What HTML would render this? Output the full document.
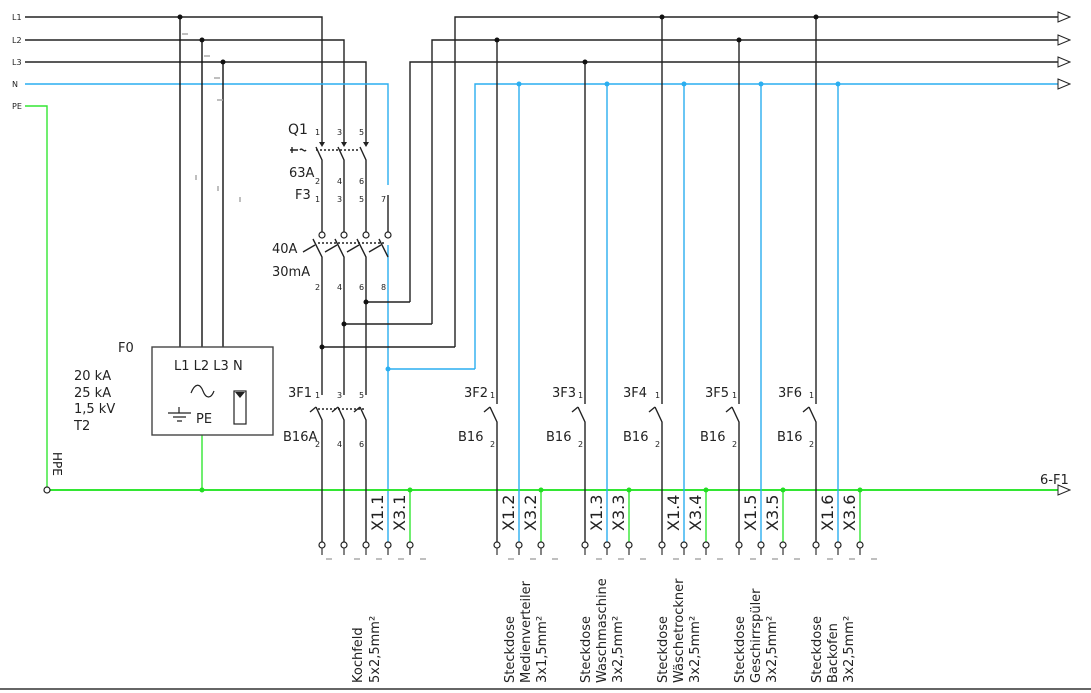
<!DOCTYPE html>
<html><head><meta charset="utf-8"><style>
html,body{margin:0;padding:0;background:#fff;width:1091px;height:693px;overflow:hidden}
svg{display:block}
text{font-family:"DejaVu Sans","Liberation Sans",sans-serif;fill:#222}
</style></head><body>
<svg width="1091" height="693" viewBox="0 0 1091 693" xmlns="http://www.w3.org/2000/svg">
<defs>
<marker id="ar" markerWidth="14" markerHeight="12" refX="1" refY="6" orient="auto" markerUnits="userSpaceOnUse">
<path d="M1,1 L13,6 L1,11 Z" fill="#fff" stroke="#222" stroke-width="1"/></marker>
</defs>
<g font-size="8">
<text x="12" y="20">L1</text><text x="12" y="43">L2</text><text x="12" y="65">L3</text><text x="12" y="87">N</text><text x="12" y="109">PE</text>
</g>
<g stroke-width="1.4" fill="none">
<path d="M25,17H322V143" stroke="#222"/>
<path d="M25,40H344V143" stroke="#222"/>
<path d="M25,62H366V143" stroke="#222"/>
<path d="M25,84H388V185" stroke="#2aaef0"/>
<path d="M388,245V545" stroke="#2aaef0"/>
<path d="M388,195V232" stroke="#222"/>
<path d="M25,106H47V487" stroke="#33e633"/>
<path d="M455,347V17H1058" stroke="#222" marker-end="url(#ar)"/>
<path d="M432,324V40H1058" stroke="#222" marker-end="url(#ar)"/>
<path d="M410,302V62H1058" stroke="#222" marker-end="url(#ar)"/>
<path d="M475,369V84H1058" stroke="#2aaef0" marker-end="url(#ar)"/>
<path d="M322,347H455M344,324H432M366,302H410" stroke="#222"/>
<path d="M388,369H475" stroke="#2aaef0"/>
<path d="M50,490H1058" stroke="#33e633" stroke-width="2" marker-end="url(#ar)"/>
<path d="M180,17V347M202,40V347M223,62V347" stroke="#111"/>
<path d="M202,435V490" stroke="#33e633"/>
<rect x="152" y="347" width="121" height="88" stroke="#444"/>
<g stroke="#222">
<!-- Q1 -->
<path d="M316,147L322,160V232M338,147L344,160V232M360,147L366,160V232"/>
<path d="M290,150H298M292,147V153" />
<path d="M300,150C302,147 304,153 306,150"/>
<path d="M316,150H360" stroke-dasharray="2,2"/>
<!-- RCD -->
<path d="M313,239L322,257V395M335,239L344,257V395M357,239L366,257V395M379,239L388,257"/>
<path d="M318,243H384" stroke-dasharray="2,2"/>
<path d="M303,252L315,245M325,252L337,245M347,252L359,245M369,252L381,245"/>
<!-- 3F1 -->
<path d="M316,407L322,420V545M338,407L344,420V545M360,407L366,420V545"/>
<path d="M316,407L310,412M338,407L332,412M360,407L354,412"/>
<path d="M318,409H364" stroke-dasharray="2,2"/>
<!-- branches -->
<path d="M497,40V404M585,62V404M662,17V404M739,40V404M816,17V404"/>
<path d="M490,407L497,422V545M578,407L585,422V545M655,407L662,422V545M732,407L739,422V545M809,407L816,422V545"/>
<path d="M490,407L484,412M578,407L572,412M655,407L649,412M732,407L726,412M809,407L803,412"/>
</g>
<g stroke="#2aaef0">
<path d="M519,84V545M607,84V545M684,84V545M761,84V545M838,84V545"/>
</g>
<g stroke="#33e633">
<path d="M410,490V545M541,490V545M629,490V545M706,490V545M783,490V545M860,490V545"/>
</g>
<path d="M0,689H1091" stroke="#333" stroke-width="1.5"/>
</g>
<g fill="#222">
<path d="M319,142H325L322,147ZM341,142H347L344,147ZM363,142H369L366,147Z"/>
</g>
<g fill="#fff" stroke="#222" stroke-width="1.2">
<circle cx="322" cy="235" r="3"/><circle cx="344" cy="235" r="3"/><circle cx="366" cy="235" r="3"/><circle cx="388" cy="235" r="3"/>
<circle cx="47" cy="490" r="3"/>
<circle cx="322" cy="545" r="3"/><circle cx="344" cy="545" r="3"/><circle cx="366" cy="545" r="3"/><circle cx="388" cy="545" r="3"/><circle cx="410" cy="545" r="3"/>
<circle cx="497" cy="545" r="3"/><circle cx="519" cy="545" r="3"/><circle cx="541" cy="545" r="3"/>
<circle cx="585" cy="545" r="3"/><circle cx="607" cy="545" r="3"/><circle cx="629" cy="545" r="3"/>
<circle cx="662" cy="545" r="3"/><circle cx="684" cy="545" r="3"/><circle cx="706" cy="545" r="3"/>
<circle cx="739" cy="545" r="3"/><circle cx="761" cy="545" r="3"/><circle cx="783" cy="545" r="3"/>
<circle cx="816" cy="545" r="3"/><circle cx="838" cy="545" r="3"/><circle cx="860" cy="545" r="3"/>
</g>
<g stroke="#333" stroke-width="1.2">
<path d="M322,548V555M344,548V555M366,548V555M388,548V555M410,548V555M497,548V555M519,548V555M541,548V555M585,548V555M607,548V555M629,548V555M662,548V555M684,548V555M706,548V555M739,548V555M761,548V555M783,548V555M816,548V555M838,548V555M860,548V555"/>
</g>
<g stroke="#aaa" stroke-width="1.5">
<path d="M326,559H332M354,559H360M376,559H382M398,559H404M420,559H426M508,559H514M530,559H536M552,559H558M596,559H602M618,559H624M640,559H646M673,559H679M695,559H701M717,559H723M750,559H756M772,559H778M794,559H800M827,559H833M849,559H855M871,559H877"/>
<path d="M182,34H188M204,56H210M214,78H220M217,100H223M196,175V180M218,186V191M240,197V202"/>
</g>
<g fill="#111">
<circle cx="180" cy="17" r="2.5"/><circle cx="202" cy="40" r="2.5"/><circle cx="223" cy="62" r="2.5"/>
<circle cx="497" cy="40" r="2.5"/><circle cx="585" cy="62" r="2.5"/><circle cx="662" cy="17" r="2.5"/><circle cx="739" cy="40" r="2.5"/><circle cx="816" cy="17" r="2.5"/>
<circle cx="322" cy="347" r="2.5"/><circle cx="344" cy="324" r="2.5"/><circle cx="366" cy="302" r="2.5"/>
</g>
<g fill="#2aaef0"><circle cx="519" cy="84" r="2.5"/><circle cx="607" cy="84" r="2.5"/><circle cx="684" cy="84" r="2.5"/><circle cx="761" cy="84" r="2.5"/><circle cx="838" cy="84" r="2.5"/><circle cx="388" cy="369" r="2.5"/></g>
<g fill="#22dd22"><circle cx="202" cy="490" r="2.5"/><circle cx="410" cy="490" r="2.5"/><circle cx="541" cy="490" r="2.5"/><circle cx="629" cy="490" r="2.5"/><circle cx="706" cy="490" r="2.5"/><circle cx="783" cy="490" r="2.5"/><circle cx="860" cy="490" r="2.5"/></g>
<text x="174" y="370" font-size="13">L1 L2 L3 N</text>
<path d="M191,393 C195,383 200,383 203,391 C206,399 211,399 214,391" stroke="#222" fill="none" stroke-width="1.2"/>
<path d="M168,413H191M179,407V413M173,417H186M177,421H182" stroke="#222" stroke-width="1.2"/>
<text x="196" y="423" font-size="13">PE</text>
<rect x="234" y="391" width="12" height="33" fill="#fff" stroke="#222" stroke-width="1.2"/>
<path d="M235,392H245L240,398Z" fill="#222"/>
<g font-size="13">
<text x="118" y="352">F0</text>
<text x="74" y="380">20 kA</text><text x="74" y="397">25 kA</text><text x="74" y="413">1,5 kV</text><text x="74" y="430">T2</text>
<text x="288" y="134" font-size="14">Q1</text>
<text x="289" y="177">63A</text><text x="295" y="199">F3</text>
<text x="272" y="253">40A</text><text x="272" y="276">30mA</text>
<text x="288" y="397">3F1</text><text x="283" y="441">B16A</text>
<text x="464" y="397">3F2</text><text x="458" y="441">B16</text>
<text x="552" y="397">3F3</text><text x="546" y="441">B16</text>
<text x="623" y="397">3F4</text><text x="623" y="441">B16</text>
<text x="705" y="397">3F5</text><text x="700" y="441">B16</text>
<text x="778" y="397">3F6</text><text x="777" y="441">B16</text>
<text x="1040" y="484">6-F1</text>
</g>
<g font-size="8" fill="#333">
<text x="315" y="135">1</text><text x="337" y="135">3</text><text x="359" y="135">5</text>
<text x="315" y="184">2</text><text x="337" y="184">4</text><text x="359" y="184">6</text>
<text x="315" y="202">1</text><text x="337" y="202">3</text><text x="359" y="202">5</text><text x="381" y="202">7</text>
<text x="315" y="290">2</text><text x="337" y="290">4</text><text x="359" y="290">6</text><text x="381" y="290">8</text>
<text x="315" y="398">1</text><text x="337" y="398">3</text><text x="359" y="398">5</text>
<text x="315" y="447">2</text><text x="337" y="447">4</text><text x="359" y="447">6</text>
<text x="490" y="398">1</text><text x="578" y="398">1</text><text x="655" y="398">1</text><text x="732" y="398">1</text><text x="809" y="398">1</text>
<text x="490" y="447">2</text><text x="578" y="447">2</text><text x="655" y="447">2</text><text x="732" y="447">2</text><text x="809" y="447">2</text>
</g>
<text font-size="12" transform="translate(53,452) rotate(90)">HPE</text>
<g font-size="16">
<text transform="translate(383,531) rotate(-90)">X1.1</text><text transform="translate(405,531) rotate(-90)">X3.1</text>
<text transform="translate(514,531) rotate(-90)">X1.2</text><text transform="translate(536,531) rotate(-90)">X3.2</text>
<text transform="translate(602,531) rotate(-90)">X1.3</text><text transform="translate(624,531) rotate(-90)">X3.3</text>
<text transform="translate(679,531) rotate(-90)">X1.4</text><text transform="translate(701,531) rotate(-90)">X3.4</text>
<text transform="translate(756,531) rotate(-90)">X1.5</text><text transform="translate(778,531) rotate(-90)">X3.5</text>
<text transform="translate(833,531) rotate(-90)">X1.6</text><text transform="translate(855,531) rotate(-90)">X3.6</text>
</g>
<g font-size="13">
<text transform="translate(362,683) rotate(-90)">Kochfeld</text><text transform="translate(379,683) rotate(-90)">5x2,5mm²</text>
<text transform="translate(514,683) rotate(-90)">Steckdose</text><text transform="translate(530,683) rotate(-90)">Medienverteiler</text><text transform="translate(546,683) rotate(-90)">3x1,5mm²</text>
<text transform="translate(590,683) rotate(-90)">Steckdose</text><text transform="translate(606,683) rotate(-90)">Waschmaschine</text><text transform="translate(622,683) rotate(-90)">3x2,5mm²</text>
<text transform="translate(667,683) rotate(-90)">Steckdose</text><text transform="translate(683,683) rotate(-90)">Wäschetrockner</text><text transform="translate(699,683) rotate(-90)">3x2,5mm²</text>
<text transform="translate(744,683) rotate(-90)">Steckdose</text><text transform="translate(760,683) rotate(-90)">Geschirrspüler</text><text transform="translate(776,683) rotate(-90)">3x2,5mm²</text>
<text transform="translate(821,683) rotate(-90)">Steckdose</text><text transform="translate(837,683) rotate(-90)">Backofen</text><text transform="translate(853,683) rotate(-90)">3x2,5mm²</text>
</g>
</svg>
</body></html>
